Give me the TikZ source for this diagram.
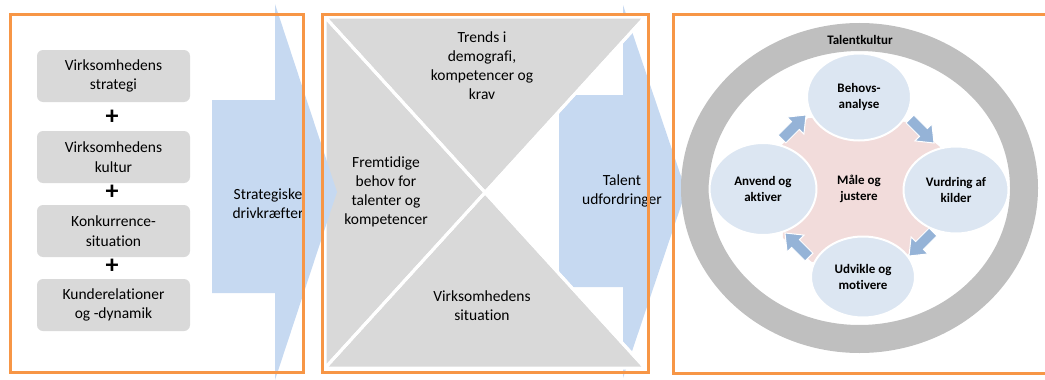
\documentclass[tikz,border=0pt]{standalone}
\usepackage{fontspec}
\setmainfont{Carlito}[Ligatures=NoCommon]
\usetikzlibrary{shapes.geometric}
\definecolor{orng}{HTML}{F79646}
\definecolor{boxgray}{HTML}{D9D9D9}
\definecolor{ringgray}{HTML}{BFBFBF}
\definecolor{arrblue}{HTML}{C6D9F1}
\definecolor{circblue}{HTML}{DCE6F2}
\definecolor{pinkc}{HTML}{F2DCDB}
\definecolor{smallblue}{HTML}{95B3D7}
\begin{document}
\begin{tikzpicture}[x=1pt,y=-1pt,
  frame/.style={draw=orng, line width=3pt},
  graybox/.style={fill=boxgray, rounded corners=6pt, minimum width=153pt, minimum height=52pt, align=center, inner sep=0pt, font=\fontsize{15.5}{19.5}\selectfont},
  plustxt/.style={font=\fontsize{26}{26}\selectfont\bfseries, inner sep=0pt},
  midtxt/.style={align=center, inner sep=0pt, font=\fontsize{15.5}{19}\selectfont},
  tri/.style={fill=boxgray, draw=white, line width=3pt, line join=miter},
  bigarrow/.style={fill=arrblue},
  cyc/.style={ellipse, fill=circblue, draw=white, line width=2pt, inner sep=0pt, align=center, font=\fontsize{13}{16}\selectfont\bfseries},
  cyctxt/.style={align=center, inner sep=0pt, font=\fontsize{13}{16}\selectfont\bfseries},
  smallarr/.pic={\filldraw[fill=smallblue, draw=white, line width=1pt] (-17,-5.5) -- (2,-5.5) -- (2,-12) -- (17,0) -- (2,12) -- (2,5.5) -- (-17,5.5) -- cycle;}
]
\useasboundingbox (0,0) rectangle (1045,380);
\clip (0,0) rectangle (1045,380);

% ---- panel 2 : arrow 2 under the triangles
\fill[bigarrow] (559,95) -- (623,95) -- (623,5) -- (686,191) -- (623,378) -- (623,287) -- (559,287) -- cycle;
\coordinate (ctr) at (485,192.5);
\path[tri] (325,17) -- (645,17) -- (ctr) -- cycle;
\path[tri] (325,368) -- (645,368) -- (ctr) -- cycle;
\path[tri] (325,17) -- (325,368) -- (ctr) -- cycle;
\draw[white, line width=3pt] (325,17) -- (645,368);
\draw[white, line width=3pt] (325,368) -- (645,17);

% ---- arrow 1
\fill[bigarrow] (212,100) -- (275,100) -- (275,4) -- (337,192) -- (275,380) -- (275,293) -- (212,293) -- cycle;

% ---- panel 1 boxes
\node[graybox] (b1) at (113.5,76) {Virksomhedens\\strategi};
\node[graybox] (b2) at (113.5,157) {Virksomhedens\\kultur};
\node[graybox] (b3) at (113.5,231) {Konkurrence-\\situation};
\node[graybox] (b4) at (113.5,305) {Kunderelationer\\og -dynamik};
\node[plustxt] (p1) at (112,117) {+};
\node[plustxt] (p2) at (112,192) {+};
\node[plustxt] (p3) at (112,266) {+};
\node[midtxt] (sd) at (268,204) {Strategiske\\drivkræfter};

% ---- panel 2 texts
\node[midtxt] (trends) at (482,65.5) {Trends i\\demografi,\\kompetencer og\\krav};
\node[midtxt] (fremt) at (386,192) {Fremtidige\\behov for\\talenter og\\kompetencer};
\node[midtxt] (virks) at (482,306) {Virksomhedens\\situation};
\node[midtxt] (talent) at (622,190.5) {Talent\\udfordringer};

% ---- panel 3
\draw[ringgray, line width=28pt] (859.5,188) ellipse [x radius=164.5, y radius=151];
\node[cyctxt] (tk) at (860,40) {Talentkultur};
\fill[pinkc] (782,145) -- (808,118) -- (910,122) -- (940,147) -- (930,232) -- (907,255) -- (812,262) -- (783,238) -- cycle;
\node[cyc, minimum width=104pt, minimum height=87pt] (beh) at (859,97) {Behovs-\\analyse};
\node[cyc, minimum width=105pt, minimum height=87pt] (vur) at (956,190) {Vurdring af\\kilder};
\node[cyc, minimum width=104pt, minimum height=81pt] (udv) at (863,277) {Udvikle og\\motivere};
\node[cyc, minimum width=107pt, minimum height=92pt] (anv) at (763,189) {Anvend og\\aktiver};
\node[cyctxt] (maale) at (859,189) {Måle og\\justere};
\pic[rotate=45] at (794,127) {smallarr};
\pic[rotate=-45] at (922,131) {smallarr};
\pic[rotate=-135] at (921,244) {smallarr};
\pic[rotate=135] at (797,245) {smallarr};

% ---- frames on top
\draw[frame] (10,14) rectangle (303,372);
\draw[frame] (322,14) rectangle (648,372);
\draw[frame] (673,14) rectangle (1070,373);
\end{tikzpicture}
\end{document}
